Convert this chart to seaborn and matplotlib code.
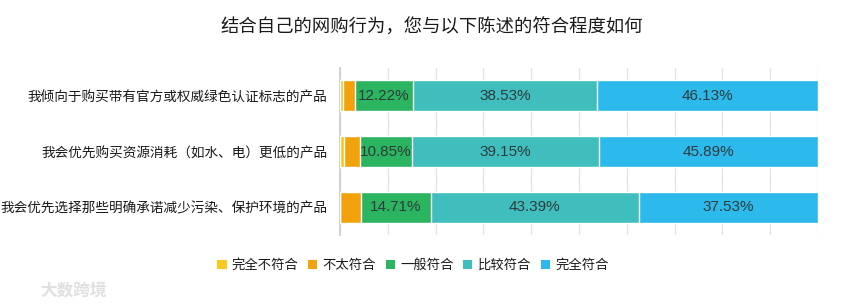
import numpy as np
import pandas as pd
import matplotlib
matplotlib.use("Agg")
import matplotlib.pyplot as plt
import seaborn as sns
from matplotlib.patches import Patch

categories = ["我倾向于购买带有官方或权威绿色认证标志的产品",
              "我会优先购买资源消耗（如水、电）更低的产品",
              "我会优先选择那些明确承诺减少污染、保护环境的产品"]
series = ["完全不符合", "不太符合", "一般符合", "比较符合", "完全符合"]
v_none = [0.70, 0.80, 0.00]
v_little = [2.42, 3.31, 4.37]
v_general = [12.22, 10.85, 14.71]
v_fairly = [38.53, 39.15, 43.39]
v_full = [46.13, 45.89, 37.53]
colors = ["#F7C81E", "#F2A20C", "#2BB560", "#40BEBE", "#2CB9EC"]

values = [v_none, v_little, v_general, v_fairly, v_full]

sns.set_theme(style="white")
plt.rcParams['font.family'] = ['Noto Sans CJK SC', 'DejaVu Sans']

fig = plt.figure(figsize=(8.65, 3.06), dpi=100)
ax = fig.add_axes([340/865, 1-235/306, (818-340)/865, 167/306])

cum = np.cumsum(np.array(values), axis=0)
for i in range(len(series)-1, -1, -1):
    df = pd.DataFrame({"cat": categories, "val": cum[i]})
    sns.barplot(data=df, x="val", y="cat", orient="h", color=colors[i],
                width=0.56, ax=ax, saturation=1, label=series[i], zorder=3)

for i in range(2, 5):
    for j in range(len(categories)):
        start = cum[i-1][j]
        ax.text(start + values[i][j]/2, j, f"{values[i][j]:.2f}%",
                ha="center", va="center", fontsize=11, color="#2f3a3a", zorder=5,
                family=["Liberation Sans", "DejaVu Sans"])

ax.set_xlim(0, 100)
ax.set_ylim(2.5, -0.5)
ax.set_xticks(np.arange(0, 101, 10))
ax.set_xticklabels([])
ax.tick_params(axis="x", length=0)
ax.grid(axis="x", color="#e3e3e3", linewidth=1, zorder=0)
ax.set_axisbelow(True)
for s in ["top", "right", "bottom"]:
    ax.spines[s].set_visible(False)
ax.spines["left"].set_color("#cccccc")
ax.set_xlabel("")
ax.set_ylabel("")
ax.tick_params(axis="y", length=0, pad=9, labelsize=9.8, labelcolor="#1a1a1a")
for t in ax.get_yticklabels():
    t.set_fontweight("medium")

leg_handles = [Patch(facecolor=colors[k], edgecolor="none") for k in range(len(series))]
ax.legend(leg_handles, series, loc="center", bbox_to_anchor=(413/865, 1-265/306),
          bbox_transform=fig.transFigure, ncol=5, frameon=False, fontsize=9.6,
          handlelength=0.7, handleheight=0.7, handletextpad=0.4, columnspacing=0.7,
          labelcolor="#1a1a1a")

fig.text(432/865, 1-28/306, "结合自己的网购行为，您与以下陈述的符合程度如何",
         ha="center", va="center", fontsize=13.2, color="#1a1a1a", fontweight="medium")
fig.text(40/865, 1-290/306, "大数跨境", ha="left", va="center", fontsize=12,
         color="#e0e0e0", fontweight="bold")

fig.savefig("out.png", dpi=100)
